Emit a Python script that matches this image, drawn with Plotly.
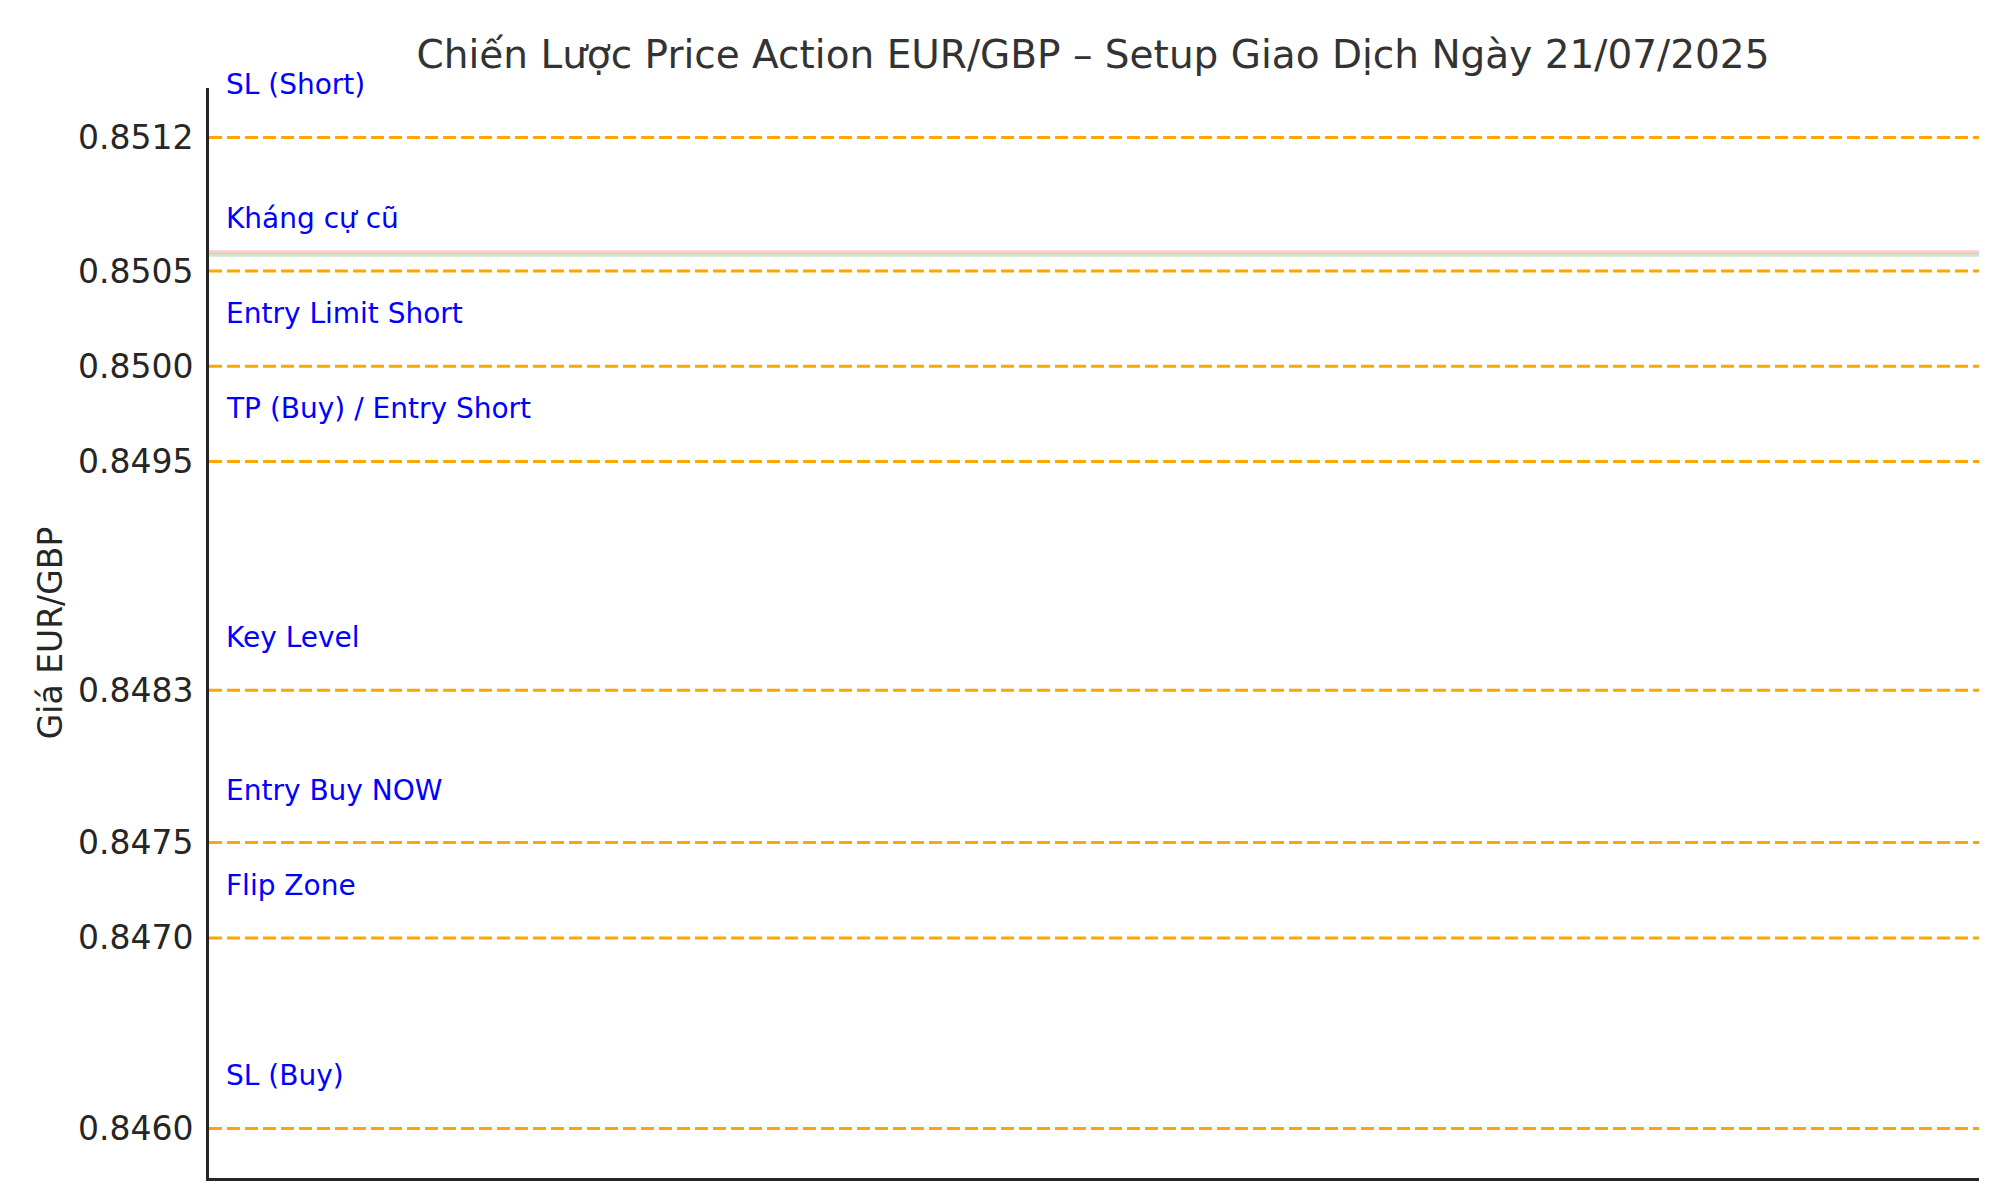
import plotly.graph_objects as go

# các mức giá chính (ngang) và nhãn tương ứng
levels = [0.8512, 0.8505, 0.8500, 0.8495, 0.8483, 0.8475, 0.8470, 0.8460]
level_labels = ["SL (Short)", "Kháng cự cũ", "Entry Limit Short", "TP (Buy) / Entry Short",
                "Key Level", "Entry Buy NOW", "Flip Zone", "SL (Buy)"]

# vùng kháng cự cũ (hai dải mờ đỏ / xanh)
zone_levels = [0.85060, 0.850583]

title = "Chiến Lược Price Action EUR/GBP – Setup Giao Dịch Ngày 21/07/2025"
y_label = "Giá EUR/GBP"

FONT = "DejaVu Sans"

fig = go.Figure()

for lv, col in zip(zone_levels, ["rgba(255,0,0,0.2)", "rgba(0,128,0,0.2)"]):
    fig.add_trace(go.Scatter(x=[0, 1], y=[lv, lv], mode="lines",
                             line=dict(color=col, width=3.5), hoverinfo="skip"))

for lv, lab in zip(levels, level_labels):
    fig.add_trace(go.Scatter(x=[0, 1], y=[lv, lv], mode="lines", name=lab,
                             line=dict(color="orange", width=3, dash="13px,5px")))
    fig.add_annotation(x=0.01, y=lv + 0.0002, text=lab, showarrow=False,
                       xanchor="left", yanchor="bottom", xshift=-3, yshift=-4,
                       font=dict(family=FONT, size=28, color="blue"))

pad = (max(levels) - min(levels)) * 0.05

fig.update_layout(
    width=2000, height=1200,
    paper_bgcolor="white", plot_bgcolor="white",
    showlegend=False,
    margin=dict(l=201, r=29, t=80, b=30),
    font=dict(family=FONT, color="#262626"),
    title=dict(text=title, x=0.5425, xanchor="center", y=1 - 46 / 1200, yanchor="middle",
               font=dict(family=FONT, size=39, color="#333333")),
    xaxis=dict(range=[0, 1], showgrid=False, zeroline=False, showticklabels=False,
               ticks="", showline=True, linecolor="#262626", linewidth=3),
    yaxis=dict(range=[min(levels) - pad, max(levels) + pad],
               tickvals=levels, ticktext=[f"{v:.4f}" for v in levels],
               showgrid=False, zeroline=False, ticks="", ticklen=0, ticklabelstandoff=6,
               tickfont=dict(family=FONT, size=33, color="#262626"),
               showline=True, linecolor="#262626", linewidth=3,
               title=dict(text=y_label, font=dict(family=FONT, size=33, color="#262626"),
                          standoff=6)),
)

fig.write_html("out.html")
